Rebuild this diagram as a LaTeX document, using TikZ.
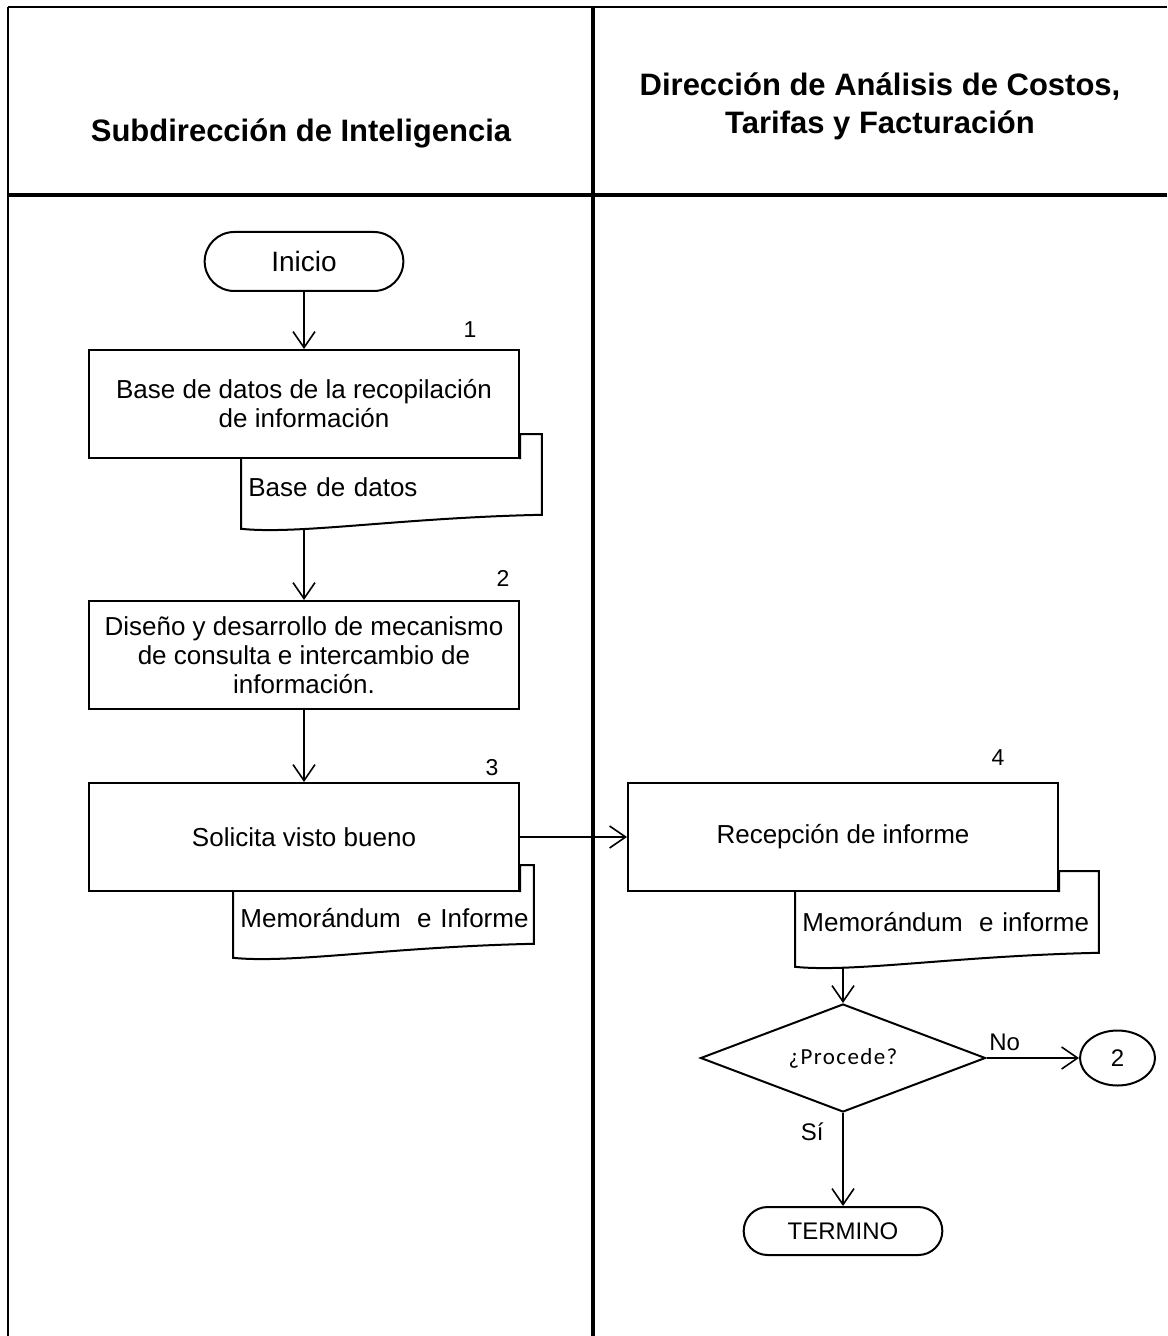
\documentclass[tikz,border=0pt]{standalone}
\usepackage{fontspec}
\setmainfont{Liberation Sans}
\newfontfamily\calibri[LetterSpace=6]{Carlito}
\usetikzlibrary{positioning, calc, arrows.meta, shapes.misc, shapes.geometric}

% contorno de documento: borde izquierdo, onda inferior y la parte alta que asoma tras la caja
\newcommand{\docoutline}[3]{%
  \draw[docline] (#1.north west) -- ($(#1.south west)+(0,14)$)
    .. controls +(58,6) and +(-142,3) .. (#1.south east)
    -- ($(#1.north east)+(0,-#3)$) -| (#2.south east);}

\begin{document}
\begin{tikzpicture}[x=0.5pt, y=-0.5pt,
    marco/.style={line width=1pt},
    marcog/.style={line width=1.6pt},
    encabezado/.style={font=\bfseries\fontsize{15.5}{19}\selectfont, align=center},
    paso/.style={draw, line width=1pt, rectangle, minimum width=215pt, minimum height=54pt,
        align=center, font=\fontsize{13}{14.5}\selectfont},
    terminal/.style={draw, line width=1pt, rounded rectangle, minimum width=106pt},
    documento/.style={anchor=north west, inner xsep=3.5pt, inner ysep=0pt, align=left,
        font=\fontsize{13}{14.5}\selectfont},
    docline/.style={line width=1pt},
    decision/.style={draw, line width=1pt, diamond, aspect=2.64, minimum width=142.5pt, minimum height=54pt,
        inner sep=0pt, font=\calibri\fontsize{11.5}{12}\selectfont},
    conector/.style={draw, line width=1pt, ellipse, minimum width=37.5pt, minimum height=27.5pt,
        inner sep=0pt, font=\fontsize{12}{13}\selectfont},
    num/.style={font=\fontsize{11.5}{12}\selectfont},
    etiqueta/.style={font=\fontsize{12}{13}\selectfont},
    flecha/.style={line width=0.8pt, -{Straight Barb[length=8pt, width=11pt]}}]
  \useasboundingbox (0,0) rectangle (1167,1336);

  % carriles
  \draw[marco] (8,7) -- (1167,7);
  \draw[marco] (8,7) -- (8,1336);
  \draw[marcog] (8,195) -- (1167,195);
  \draw[marcog] (593,7) -- (593,1336);

  \node[encabezado] (carril1) at (301,133) {Subdirección de Inteligencia};
  \node[encabezado] (carril2) at (880,106) {Dirección de Análisis de Costos,\\Tarifas y Facturación};

  % pasos
  \node[terminal, minimum height=29.5pt, font=\fontsize{14}{15}\selectfont] (inicio) at (304,261.5) {Inicio};
  \node[paso] (paso1) [below=28.5pt of inicio] {Base de datos de la recopilación\\de información};
  \node[documento, text width=143pt, minimum height=27.5pt] (doc1) at ($(paso1.south west)+(153,0)$) {Base de datos};
  \node[paso] (paso2) [below=70.5pt of paso1] {Diseño y desarrollo de mecanismo\\de consulta e intercambio de\\información.};
  \node[paso] (paso3) [below=36pt of paso2] {Solicita visto bueno};
  \node[documento, text width=143pt, minimum height=25.5pt] (doc3) at ($(paso3.south west)+(145,0)$) {\mbox{Memorándum\hspace{0.3em} e Informe}};
  \node[paso] (paso4) [right=53.5pt of paso3] {Recepción de informe};
  \node[documento, text width=144.5pt, minimum height=30pt] (doc4) at ($(paso4.south west)+(168,0)$) {\mbox{Memorándum\hspace{0.3em} e informe}};
  \node[decision] (procede) at (843,1058) {¿Procede?};
  \node[conector] (ir2) at (1117.5,1058) {2};
  \node[terminal, minimum height=24pt, font=\fontsize{12}{13}\selectfont] (termino) at (843,1231) {TERMINO};

  \node[num] (n1) at (470,330) {1};
  \node[num] (n2) at (503,578) {2};
  \node[num] (n3) at (492,768) {3};
  \node[num] (n4) at (998,758) {4};

  \docoutline{doc1}{paso1}{25}
  \docoutline{doc3}{paso3}{27}
  \docoutline{doc4}{paso4}{21}

  % flujo
  \draw[flecha] (inicio) -- (paso1);
  \draw[flecha] ($(paso2.north |- doc1.south)+(0,13)$) -- (paso2);
  \draw[flecha] (paso2) -- (paso3);
  \draw[flecha] (paso3) -- (paso4);
  \draw[flecha] ($(procede.north |- doc4.south)+(0,15)$) -- (procede);
  \draw[flecha] (procede) -- node[etiqueta, pos=0, anchor=south west, inner xsep=1pt] (etqno) {No} (ir2);
  \draw[flecha] (procede) -- node[etiqueta, pos=0.2, anchor=east, xshift=-6pt] (etqsi) {Sí} (termino);
\end{tikzpicture}
\end{document}
